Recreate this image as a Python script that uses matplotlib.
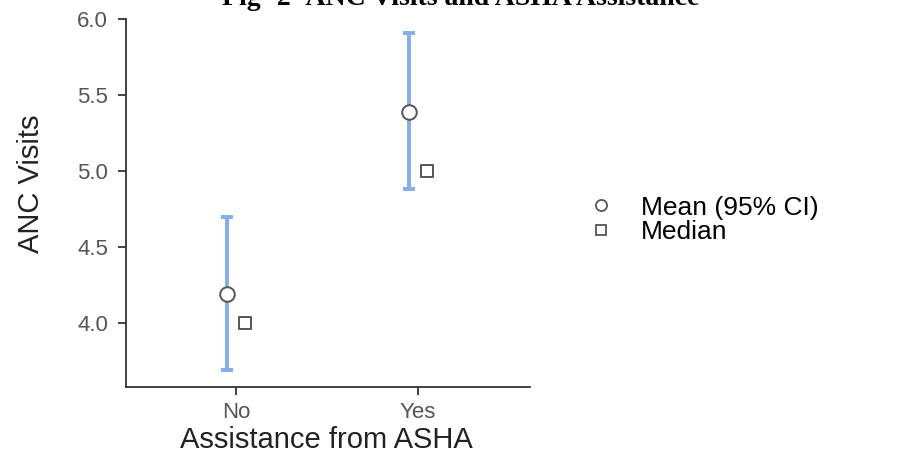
import numpy as np
import matplotlib.pyplot as plt
from matplotlib.lines import Line2D

# data
groups = ["No", "Yes"]
mean_vals = [4.19, 5.39]
ci_low = [3.69, 4.88]
ci_high = [4.70, 5.91]
median_vals = [4.0, 5.0]

plt.rcParams['font.family'] = ['Liberation Sans', 'DejaVu Sans']

fig = plt.figure(figsize=(8.97, 4.57), dpi=100)
ax = fig.add_axes([0.1405, 0.153, 0.4505, 0.805])

x = np.arange(1, len(groups) + 1)
off = 0.05
mean_arr = np.array(mean_vals)
yerr = [mean_arr - np.array(ci_low), np.array(ci_high) - mean_arr]

ax.errorbar(x - off, mean_vals, yerr=yerr, fmt='none', ecolor='#84aee8',
            elinewidth=2.8, capsize=4, capthick=2.8, zorder=2)
ax.scatter(x - off, mean_vals, marker='o', s=110, facecolor='white',
           edgecolor='#555555', linewidth=1.4, zorder=3)
ax.scatter(x + off, median_vals, marker='s', s=75, facecolor='white',
           edgecolor='#555555', linewidth=1.4, zorder=3)

ax.set_xlim(0.395, 2.615)
ax.set_ylim(3.58, 6.0)
ax.set_xticks(x)
ax.set_xticklabels(groups)
ax.set_yticks([4.0, 4.5, 5.0, 5.5, 6.0])
ax.set_yticklabels(["4.0", "4.5", "5.0", "5.5", "6.0"])

for s in ['top', 'right']:
    ax.spines[s].set_visible(False)
for s in ['left', 'bottom']:
    ax.spines[s].set_color('#333333')
    ax.spines[s].set_linewidth(1.3)
ax.tick_params(axis='both', colors='#333333', labelcolor='#555555',
               labelsize=16, length=6, width=1.3, pad=7)
ax.tick_params(axis='x', pad=5)

ax.set_xlabel("Assistance from ASHA", fontsize=21, color='#222222')
ax.xaxis.set_label_coords(0.495, -0.105)
ax.set_ylabel("ANC Visits", fontsize=21, color='#222222')
ax.yaxis.set_label_coords(-0.2, 0.552)

handles = [
    Line2D([], [], marker='o', linestyle='none', markersize=8,
           markerfacecolor='white', markeredgecolor='#555555', markeredgewidth=1.3),
    Line2D([], [], marker='s', linestyle='none', markersize=7,
           markerfacecolor='white', markeredgecolor='#555555', markeredgewidth=1.3),
]
fig.legend(handles, ["Mean (95% CI)", "Median"], loc='center left',
           bbox_to_anchor=(0.6405, 0.519), frameon=False, fontsize=19,
           handletextpad=1.0, labelspacing=0.02, handlelength=1.0,
           borderpad=0.0)

# title is cut off at the top edge in the reference too
fig.text(0.514, 0.989, "Fig- 2- ANC Visits and ASHA Assistance", ha='center',
         va='baseline', fontsize=20, fontweight='bold',
         family=['Liberation Serif', 'DejaVu Serif'])

fig.savefig("out.png", dpi=100)
